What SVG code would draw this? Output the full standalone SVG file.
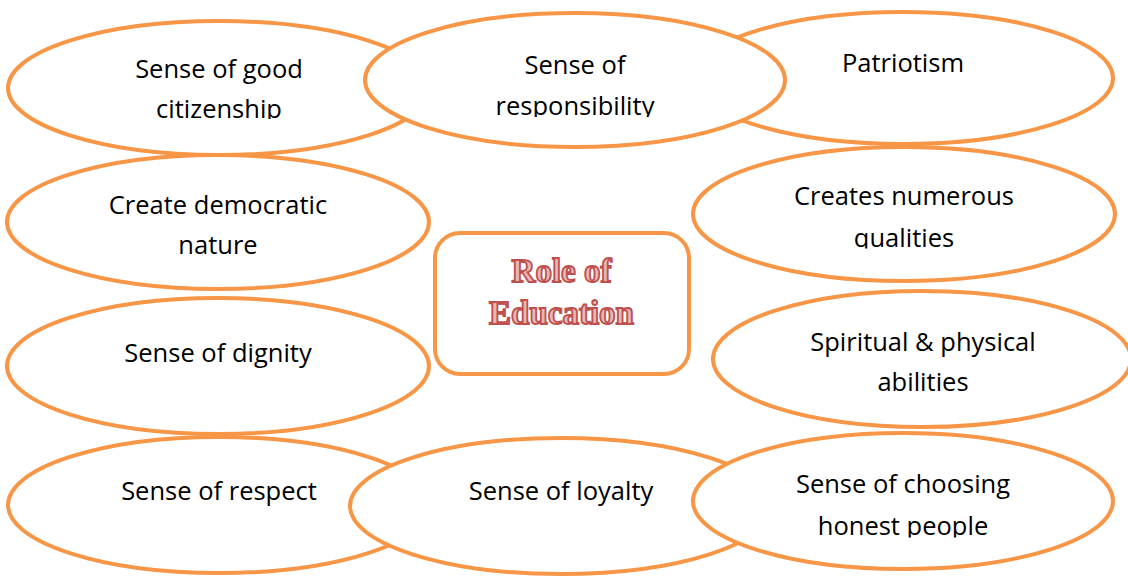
<svg xmlns="http://www.w3.org/2000/svg" width="1128" height="577" viewBox="0 0 1128 577">
<style>
.ov{fill:#fff;stroke:#F79646;stroke-width:4}
.t{font-family:"Open Sans","Liberation Sans",sans-serif;font-size:25.5px;fill:#000;text-anchor:middle}
.c{font-family:"Liberation Serif","DejaVu Serif",serif;font-weight:bold;font-size:33px;fill:#E6B9B8;stroke:#C0504D;stroke-width:1.8;text-anchor:middle}
</style>
<defs>
<clipPath id="c1"><rect x="0" y="0" width="1128" height="119"/></clipPath>
<clipPath id="c2"><rect x="0" y="0" width="1128" height="117"/></clipPath>
<clipPath id="c5"><rect x="0" y="0" width="1128" height="248.5"/></clipPath>
<clipPath id="c10"><rect x="0" y="0" width="1128" height="537.5"/></clipPath>
</defs>
<rect width="1128" height="577" fill="#fff"/>
<g id="connectors"/>
<g id="n1">
<ellipse class="ov" cx="219" cy="88" rx="211" ry="67"/>
<text class="t" x="219" y="78">Sense of good</text>
<text class="t" x="219" y="118" clip-path="url(#c1)">citizenship</text>
</g>
<g id="n3">
<ellipse class="ov" cx="903" cy="78" rx="210" ry="66"/>
<text class="t" x="903" y="72">Patriotism</text>
</g>
<g id="n2">
<ellipse class="ov" cx="575" cy="80" rx="210" ry="67"/>
<text class="t" x="575" y="74">Sense of</text>
<text class="t" x="575" y="115" clip-path="url(#c2)">responsibility</text>
</g>
<g id="n4">
<ellipse class="ov" cx="218" cy="222" rx="211" ry="67"/>
<text class="t" x="218" y="214">Create democratic</text>
<text class="t" x="218" y="254">nature</text>
</g>
<g id="n5">
<ellipse class="ov" cx="904" cy="214" rx="211" ry="67"/>
<text class="t" x="904" y="205">Creates numerous</text>
<text class="t" x="904" y="247" clip-path="url(#c5)">qualities</text>
</g>
<g id="center">
<rect x="435" y="233" width="254" height="141" rx="25" ry="25" fill="#fff" stroke="#F79646" stroke-width="4"/>
<text class="c" x="561.5" y="282">Role of</text>
<text class="c" x="561.5" y="324">Education</text>
</g>
<g id="n6">
<ellipse class="ov" cx="218" cy="366" rx="211" ry="68"/>
<text class="t" x="218" y="362">Sense of dignity</text>
</g>
<g id="n7">
<ellipse class="ov" cx="922" cy="359" rx="209" ry="68"/>
<text class="t" x="923" y="351">Spiritual &amp; physical</text>
<text class="t" x="923" y="391">abilities</text>
</g>
<g id="n8">
<ellipse class="ov" cx="219" cy="505" rx="211" ry="68"/>
<text class="t" x="219" y="500">Sense of respect</text>
</g>
<g id="n9">
<ellipse class="ov" cx="561" cy="506" rx="211" ry="68"/>
<text class="t" x="561" y="500">Sense of loyalty</text>
</g>
<g id="n10">
<ellipse class="ov" cx="903" cy="501" rx="210" ry="68"/>
<text class="t" x="903" y="493">Sense of choosing</text>
<text class="t" x="903" y="535" clip-path="url(#c10)">honest people</text>
</g>
</svg>
